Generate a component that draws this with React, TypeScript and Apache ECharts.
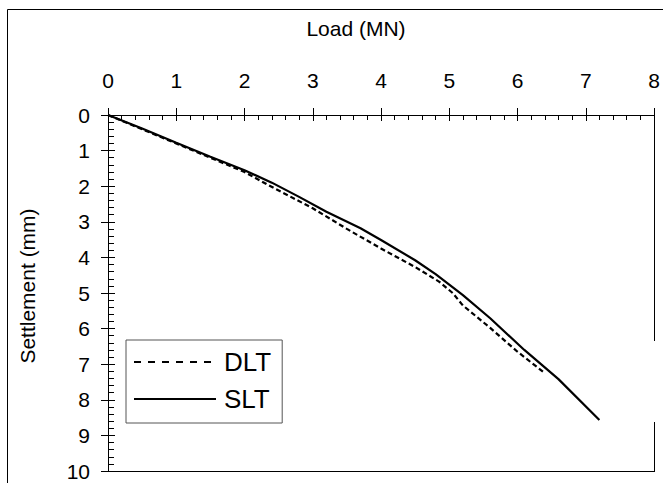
import React, { useEffect, useRef } from "react";
import * as echarts from "echarts";

const FONT = "'Liberation Sans', Arial, sans-serif";

const xTicks = [0, 1, 2, 3, 4, 5, 6, 7, 8];
const yTicks = [0, 1, 2, 3, 4, 5, 6, 7, 8, 9, 10];

const dltLoad = [0, 0.5, 1.0, 1.5, 2.0, 2.35, 3.0, 3.5, 4.0, 4.5, 4.85, 5.05, 5.2, 5.6, 6.0, 6.4];
const dltSettle = [0, 0.4, 0.8, 1.2, 1.6, 1.97, 2.62, 3.2, 3.75, 4.27, 4.68, 5.0, 5.35, 5.98, 6.65, 7.25];

const sltLoad = [0, 0.5, 1.0, 1.5, 2.0, 2.4, 2.8, 3.2, 3.7, 4.0, 4.5, 4.8, 5.2, 5.6, 6.1, 6.6, 7.2];
const sltSettle = [0, 0.38, 0.78, 1.17, 1.55, 1.9, 2.3, 2.72, 3.18, 3.51, 4.08, 4.47, 5.06, 5.71, 6.6, 7.42, 8.57];

const seriesNames = ["DLT", "SLT"];

const zip = (a: number[], b: number[]) => a.map((v, i) => [v, b[i]]);

export default function App() {
  const ref = useRef<HTMLDivElement>(null);
  useEffect(() => {
    if (!ref.current) return;
    const chart = echarts.init(ref.current, null, { renderer: "svg" });
    const black = { color: "#000", width: 1 };
    const L = 108, T = 115, R = 654, B = 471;
    chart.setOption({
      animation: false,
      backgroundColor: "#fff",
      textStyle: { fontFamily: FONT },
      grid: { left: L, top: T, right: 663 - R, bottom: 483 - B },
      xAxis: [
        {
          type: "value", position: "top", min: xTicks[0], max: xTicks[xTicks.length - 1], interval: 1,
          axisLine: { show: true, onZero: false, lineStyle: black },
          axisTick: { show: true, inside: false, length: 7, lineStyle: black },
          axisLabel: { fontSize: 21, color: "#000", margin: 24, fontFamily: FONT },
          splitLine: { show: false },
        },
        {
          type: "value", position: "top", min: xTicks[0], max: xTicks[xTicks.length - 1], interval: 1,
          axisLine: { show: false, onZero: false },
          axisTick: { show: true, inside: true, length: 6, lineStyle: black },
          minorTick: { show: true, splitNumber: 5, length: 5, lineStyle: black },
          axisLabel: { show: false },
          splitLine: { show: false },
        },
      ],
      yAxis: [
        {
          type: "value", position: "left", inverse: true, min: yTicks[0], max: yTicks[yTicks.length - 1], interval: 1,
          axisLine: { show: true, onZero: false, lineStyle: black },
          axisTick: { show: true, inside: false, length: 7, lineStyle: black },
          axisLabel: { fontSize: 21, color: "#000", margin: 18, fontFamily: FONT },
          splitLine: { show: false },
        },
        {
          type: "value", position: "left", inverse: true, min: yTicks[0], max: yTicks[yTicks.length - 1], interval: 1,
          axisLine: { show: false, onZero: false },
          axisTick: { show: true, inside: true, length: 7, lineStyle: black },
          minorTick: { show: true, splitNumber: 5, length: 6, lineStyle: black },
          axisLabel: { show: false },
          splitLine: { show: false },
        },
      ],
      legend: {
        orient: "vertical", left: 126, top: 340,
        padding: [9, 11, 11, 7],
        itemWidth: 82, itemHeight: 26, itemGap: 11,
        borderColor: "#555", borderWidth: 1, borderRadius: 0,
        backgroundColor: "#fff",
        itemStyle: { opacity: 0, borderWidth: 0, color: "transparent" },
        textStyle: { fontSize: 26, color: "#000", fontFamily: FONT, padding: [0, 0, 0, 3] },
        data: [
          { name: seriesNames[0], lineStyle: { type: [7, 7] } },
          { name: seriesNames[1] },
        ],
      },
      graphic: [
        { type: "line", shape: { x1: 7.5, y1: 9.5, x2: 663, y2: 9.5 }, style: { stroke: "#000", lineWidth: 1 } },
        { type: "line", shape: { x1: 7.5, y1: 9.5, x2: 7.5, y2: 483 }, style: { stroke: "#000", lineWidth: 1 } },
        { type: "line", shape: { x1: L, y1: B + 0.5, x2: R + 1, y2: B + 0.5 }, style: { stroke: "#000", lineWidth: 1 } },
        { type: "line", shape: { x1: R + 0.5, y1: T, x2: R + 0.5, y2: 341 }, style: { stroke: "#000", lineWidth: 1 } },
        { type: "line", shape: { x1: R + 0.5, y1: 422, x2: R + 0.5, y2: B + 1 }, style: { stroke: "#000", lineWidth: 1 } },
        {
          type: "text", x: 356, y: 28,
          style: { text: "Load (MN)", fontSize: 21, fontFamily: FONT, fill: "#000", align: "center", verticalAlign: "middle" },
        },
        {
          type: "text", x: 27, y: 286, rotation: Math.PI / 2,
          style: { text: "Settlement (mm)", fontSize: 21, fontFamily: FONT, fill: "#000", align: "center", verticalAlign: "middle" },
        },
      ],
      series: [
        {
          name: seriesNames[0], type: "line", xAxisIndex: 0, yAxisIndex: 0,
          data: zip(dltLoad, dltSettle), symbol: "none", smooth: false,
          lineStyle: { color: "#000", width: 2.2, type: [5, 3] },
          itemStyle: { color: "#000" },
        },
        {
          name: seriesNames[1], type: "line", xAxisIndex: 0, yAxisIndex: 0,
          data: zip(sltLoad, sltSettle), symbol: "none", smooth: false,
          lineStyle: { color: "#000", width: 2.2, type: "solid" },
          itemStyle: { color: "#000" },
        },
      ],
    });
    return () => chart.dispose();
  }, []);
  return (
    <div
      ref={ref}
      style={{ position: "fixed", left: 0, top: 0, width: 663, height: 483, background: "#fff" }}
    />
  );
}
